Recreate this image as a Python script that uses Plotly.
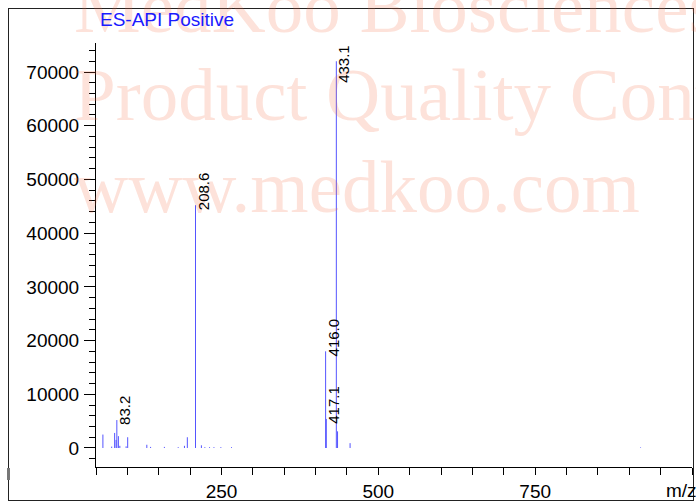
import plotly.graph_objects as go

# ---- data ----
mz = [61.0, 75.0, 79.7, 82.0, 83.2, 85.7, 88.0, 98.0, 100.5, 131.0, 137.0, 159.0,
      181.0, 191.0, 195.6, 208.6, 218.0, 223.5, 231.0, 238.0, 249.0, 266.0,
      416.0, 417.1, 433.1, 435.0, 455.0, 918.0]
intensity = [2500, 250, 2800, 1500, 5200, 2200, 400, 300, 2000, 600, 200, 200,
             150, 400, 2000, 45200, 500, 150, 150, 150, 150, 150,
             18000, 5400, 72000, 3100, 900, 100]
labeled_peaks = ["83.2", "208.6", "416.0", "417.1", "433.1"]
x_tickvals = [250, 500, 750]
y_tickvals = [0, 10000, 20000, 30000, 40000, 50000, 60000, 70000]
title_text = "ES-API Positive"
x_label = "m/z"
watermark_lines = ["MedKoo Biosciences", "Product Quality Control", "www.medkoo.com"]

# ---- layout constants ----
W, H = 696, 502
ML, MR, MT, MB = 9, 3, 9, 2          # outer frame area
area_w = W - ML - MR
area_h = H - MT - MB
PX_L, PX_R, PX_T, PX_B = 96, 692, 43, 467   # inner plot area in pixels
XR = [50, 1000]
YR = [-3540, 75400]


def px_to_paper_x(px):
    return (px - ML) / area_w


def px_to_paper_y(py):
    return (H - MB - py) / area_h


x_domain = [px_to_paper_x(PX_L), px_to_paper_x(PX_R)]
y_domain = [px_to_paper_y(PX_B), px_to_paper_y(PX_T)]

# stick spectrum built from the data lists
xs, ys = [], []
for m, h in zip(mz, intensity):
    xs += [m, m, None]
    ys += [0, h, None]

fig = go.Figure()
fig.add_trace(go.Scatter(x=xs, y=ys, mode="lines",
                         line=dict(color="rgb(85,85,255)", width=1),
                         hoverinfo="skip", showlegend=False))
# empty trace so the frame subplot exists
fig.add_trace(go.Scatter(x=[], y=[], xaxis="x2", yaxis="y2",
                         hoverinfo="skip", showlegend=False))

annotations = []
# watermark (semi-transparent so it reads as a background tint)
wm_baselines = [33, 121, 213]
for txt, by in zip(watermark_lines, wm_baselines):
    annotations.append(dict(
        text=txt, xref="paper", yref="paper",
        x=px_to_paper_x(72), y=px_to_paper_y(by + 17),
        xanchor="left", yanchor="bottom", showarrow=False,
        font=dict(family="Liberation Serif", size=75, color="rgba(245,110,70,0.2)"),
    ))

# peak labels
label_len_units = 40 / (PX_B - PX_T) * (YR[1] - YR[0])
for lab in labeled_peaks:
    m = float(lab)
    idx = min(range(len(mz)), key=lambda i: abs(mz[i] - m))
    h = intensity[idx]
    if h + label_len_units > YR[1]:
        annotations.append(dict(text=lab, x=m, y=1, xref="x", yref="y domain",
                                xanchor="left", yanchor="top", textangle=-90,
                                showarrow=False, xshift=-3,
                                font=dict(family="Liberation Sans", size=15, color="black")))
    else:
        annotations.append(dict(text=lab, x=m, y=h, xref="x", yref="y",
                                xanchor="left", yanchor="bottom", textangle=-90,
                                showarrow=False, xshift=-3, yshift=-7,
                                font=dict(family="Liberation Sans", size=15, color="black")))

# title
annotations.append(dict(text=title_text, xref="paper", yref="paper",
                        x=px_to_paper_x(98), y=px_to_paper_y(32),
                        xanchor="left", yanchor="bottom", showarrow=False,
                        font=dict(family="Liberation Sans", size=19, color="#1a1aff")))
# axis label
annotations.append(dict(text=x_label, xref="paper", yref="paper",
                        x=px_to_paper_x(664), y=px_to_paper_y(503),
                        xanchor="left", yanchor="bottom", showarrow=False,
                        font=dict(family="Liberation Sans", size=19, color="black")))

shapes = [
    dict(type="line", xref="paper", yref="paper",
         x0=px_to_paper_x(8.5), x1=px_to_paper_x(8.5),
         y0=px_to_paper_y(468), y1=px_to_paper_y(480),
         line=dict(color="#777777", width=3)),
]

fig.update_layout(
    width=W, height=H,
    margin=dict(l=ML, r=MR, t=MT, b=MB, pad=0, autoexpand=False),
    paper_bgcolor="white", plot_bgcolor="rgba(0,0,0,0)",
    showlegend=False,
    annotations=annotations,
    shapes=shapes,
    font=dict(family="Liberation Sans", color="black"),
    xaxis=dict(
        domain=x_domain, anchor="y",
        range=XR, tickmode="array", tickvals=x_tickvals, automargin=False,
        showline=True, linecolor="black", linewidth=1,
        ticks="outside", ticklen=7, tickcolor="black", tickwidth=1,
        minor=dict(dtick=50, tick0=0, ticks="outside", ticklen=7, tickcolor="black", tickwidth=1),
        showgrid=False, zeroline=False,
        tickfont=dict(family="Liberation Sans", size=19, color="black"),
        ticklabelstandoff=0,
    ),
    yaxis=dict(
        domain=y_domain, anchor="x",
        range=YR, tickmode="array", tickvals=y_tickvals, tickformat="d", automargin=False,
        showline=True, linecolor="black", linewidth=1,
        ticks="outside", ticklen=11, tickcolor="black", tickwidth=1,
        minor=dict(dtick=2000, tick0=0, ticks="outside", ticklen=6, tickcolor="black", tickwidth=1),
        showgrid=False, zeroline=False,
        tickfont=dict(family="Liberation Sans", size=19, color="black"),
        ticklabelstandoff=1,
    ),
    # full-area axes used only to draw the outer frame
    xaxis2=dict(domain=[0, 1], anchor="y2", range=[0, 1], showline=True, mirror=True,
                linecolor="#222222", linewidth=1, showticklabels=False, ticks="",
                showgrid=False, zeroline=False, automargin=False, fixedrange=True),
    yaxis2=dict(domain=[0, 1], anchor="x2", range=[0, 1], showline=True, mirror=True,
                linecolor="#222222", linewidth=1, showticklabels=False, ticks="",
                showgrid=False, zeroline=False, automargin=False, fixedrange=True),
)

fig.write_html(
    "out.html",
    config={"displayModeBar": False},
    post_script="document.body.style.margin='0';document.body.style.overflow='hidden';",
)
